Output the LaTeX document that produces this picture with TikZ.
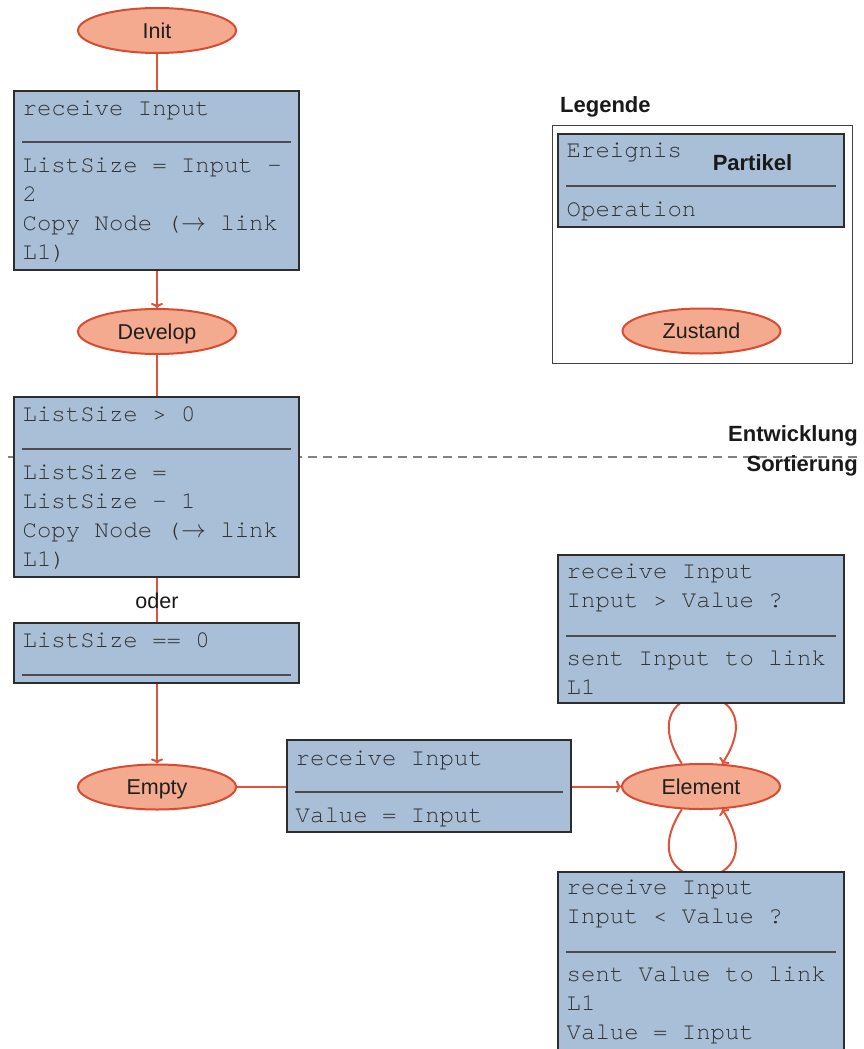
\documentclass[tikz,border=0pt]{standalone}
\usepackage{fontspec}
\usetikzlibrary{shapes.geometric,arrows.meta}
\newfontfamily\lblfont{Liberation Sans}
\newfontfamily\codefont{TeX Gyre Cursor}
\definecolor{boxfill}{RGB}{169,191,215}
\definecolor{boxline}{RGB}{45,45,45}
\definecolor{statefill}{RGB}{244,170,142}
\definecolor{stateline}{RGB}{217,74,48}
\definecolor{wirered}{RGB}{222,83,58}
\definecolor{codetext}{RGB}{50,50,50}
\definecolor{dashgray}{RGB}{130,130,130}
\pgfdeclarelayer{bg}
\pgfsetlayers{bg,main}
\begin{document}
\begin{tikzpicture}[x=1pt,y=-1pt,
  box/.style={draw=boxline, fill=boxfill, line width=2.4pt, rectangle, anchor=north west, inner sep=0pt, outer sep=0pt},
  rule/.style={draw=boxline!85, line width=1.3pt},
  code/.style={anchor=base west, inner sep=0pt, text=codetext, font=\codefont\fontsize{24}{29}\selectfont},
  state/.style={ellipse, draw=stateline, fill=statefill, line width=2pt, minimum width=158pt, minimum height=45pt, inner sep=0pt, text height=15.4pt, text depth=0pt, text=black!88, font=\lblfont\fontsize{21.5}{26}\selectfont},
  lbl/.style={inner sep=0pt, text=black!90, font=\lblfont\fontsize{21.5}{26}\selectfont},
  hdr/.style={lbl, font=\lblfont\bfseries\fontsize{22}{26}\selectfont},
  wire/.style={draw=wirered, line width=2pt},
  arr/.style={wire, -{To[length=5pt,width=12pt]}},
]
\useasboundingbox (0,0) rectangle (864,1049);
\clip (0,0) rectangle (864,1049);

% phase separator
\draw[dashgray, line width=1.4pt, dash pattern=on 9pt off 6pt] (8,457) -- (858,457);
\node[hdr, anchor=base east] (phaseA) at (858,441) {Entwicklung};
\node[hdr, anchor=base east] (phaseB) at (858,471) {Sortierung};

% development chain
\node[state] (init) at (157,30.5) {Init};

\node[box, minimum width=285pt, minimum height=179pt] (b1) at (14,91) {};
\node[code] (b1a) at (22.5,115) {receive Input};
\draw[rule] (22,142) -- (291,142);
\node[code] (b1b) at (22.5,172) {ListSize = Input –};
\node[code] (b1c) at (22.5,201) {2};
\node[code] (b1d) at (22.5,230) {Copy Node ($\rightarrow$ link};
\node[code] (b1e) at (22.5,259) {L1)};

\node[state] (dev) at (157,331.5) {Develop};

\node[box, minimum width=285pt, minimum height=180pt] (b2) at (14,397) {};
\node[code] (b2a) at (22.5,421) {ListSize > 0};
\draw[rule] (22,449) -- (291,449);
\node[code] (b2b) at (22.5,479) {ListSize =};
\node[code] (b2c) at (22.5,508) {ListSize – 1};
\node[code] (b2d) at (22.5,537) {Copy Node ($\rightarrow$ link};
\node[code] (b2e) at (22.5,566) {L1)};

\node[lbl, anchor=base] (oder) at (157,608) {oder};

\node[box, minimum width=285pt, minimum height=60pt] (b3) at (14,623) {};
\node[code] (b3a) at (22.5,647) {ListSize == 0};
\draw[rule] (22,675) -- (291,675);

\node[state] (empty) at (157,787) {Empty};

% sorting part
\node[box, minimum width=284pt, minimum height=92pt] (b4) at (287,740) {};
\node[code] (b4a) at (295.5,765) {receive Input};
\draw[rule] (295,792) -- (563,792);
\node[code] (b4b) at (295.5,822) {Value = Input};

\node[state] (el) at (701,786.5) {Element};

\node[box, minimum width=286pt, minimum height=148pt] (b5) at (558,555) {};
\node[code] (b5a) at (566.5,578) {receive Input};
\node[code] (b5b) at (566.5,607) {Input > Value ?};
\draw[rule] (566,636) -- (836,636);
\node[code] (b5c) at (566.5,665) {sent Input to link};
\node[code] (b5d) at (566.5,694) {L1};

\node[box, minimum width=286pt, minimum height=190pt] (b6) at (558,872) {};
\node[code] (b6a) at (566.5,894) {receive Input};
\node[code] (b6b) at (566.5,923) {Input < Value ?};
\draw[rule] (566,952) -- (836,952);
\node[code] (b6c) at (566.5,981) {sent Value to link};
\node[code] (b6d) at (566.5,1010) {L1};
\node[code] (b6e) at (566.5,1039) {Value = Input};

% legend
\node[hdr, anchor=base west] (legT) at (560,112) {Legende};
\node[draw=boxline!90, line width=1pt, rectangle, anchor=north west, inner sep=0pt, minimum width=300pt, minimum height=238pt] (leg) at (552,125) {};
\node[box, minimum width=286pt, minimum height=93pt] (b7) at (558,134) {};
\node[code] (b7a) at (566.5,157) {Ereignis};
\draw[rule] (566,186) -- (836,186);
\node[code] (b7b) at (566.5,216) {Operation};
\node[hdr, anchor=base] (b7c) at (752.5,170) {Partikel};
\node[state] (zst) at (701.5,331) {Zustand};

% connectors
\begin{pgfonlayer}{bg}
\draw[wire] (init.south) -- (init.south |- b1.north);
\draw[arr] (dev.north |- b1.south) -- (dev.north);
\draw[wire] (dev.south) -- (dev.south |- b2.north);
\draw[wire] (dev.south |- b2.south) -- (dev.south |- b3.north);
\draw[arr] (empty.north |- b3.south) -- (empty.north);
\draw[wire] (empty.east) -- (b4.west |- empty.east);
\draw[arr] (b4.east |- el.west) -- (el.west);
\draw[arr] (el.130) .. controls +(-58,-90) and +(58,-90) .. (el.47);
\draw[arr] (el.230) .. controls +(-58,90) and +(58,90) .. (el.313);
\end{pgfonlayer}
\end{tikzpicture}
\end{document}
